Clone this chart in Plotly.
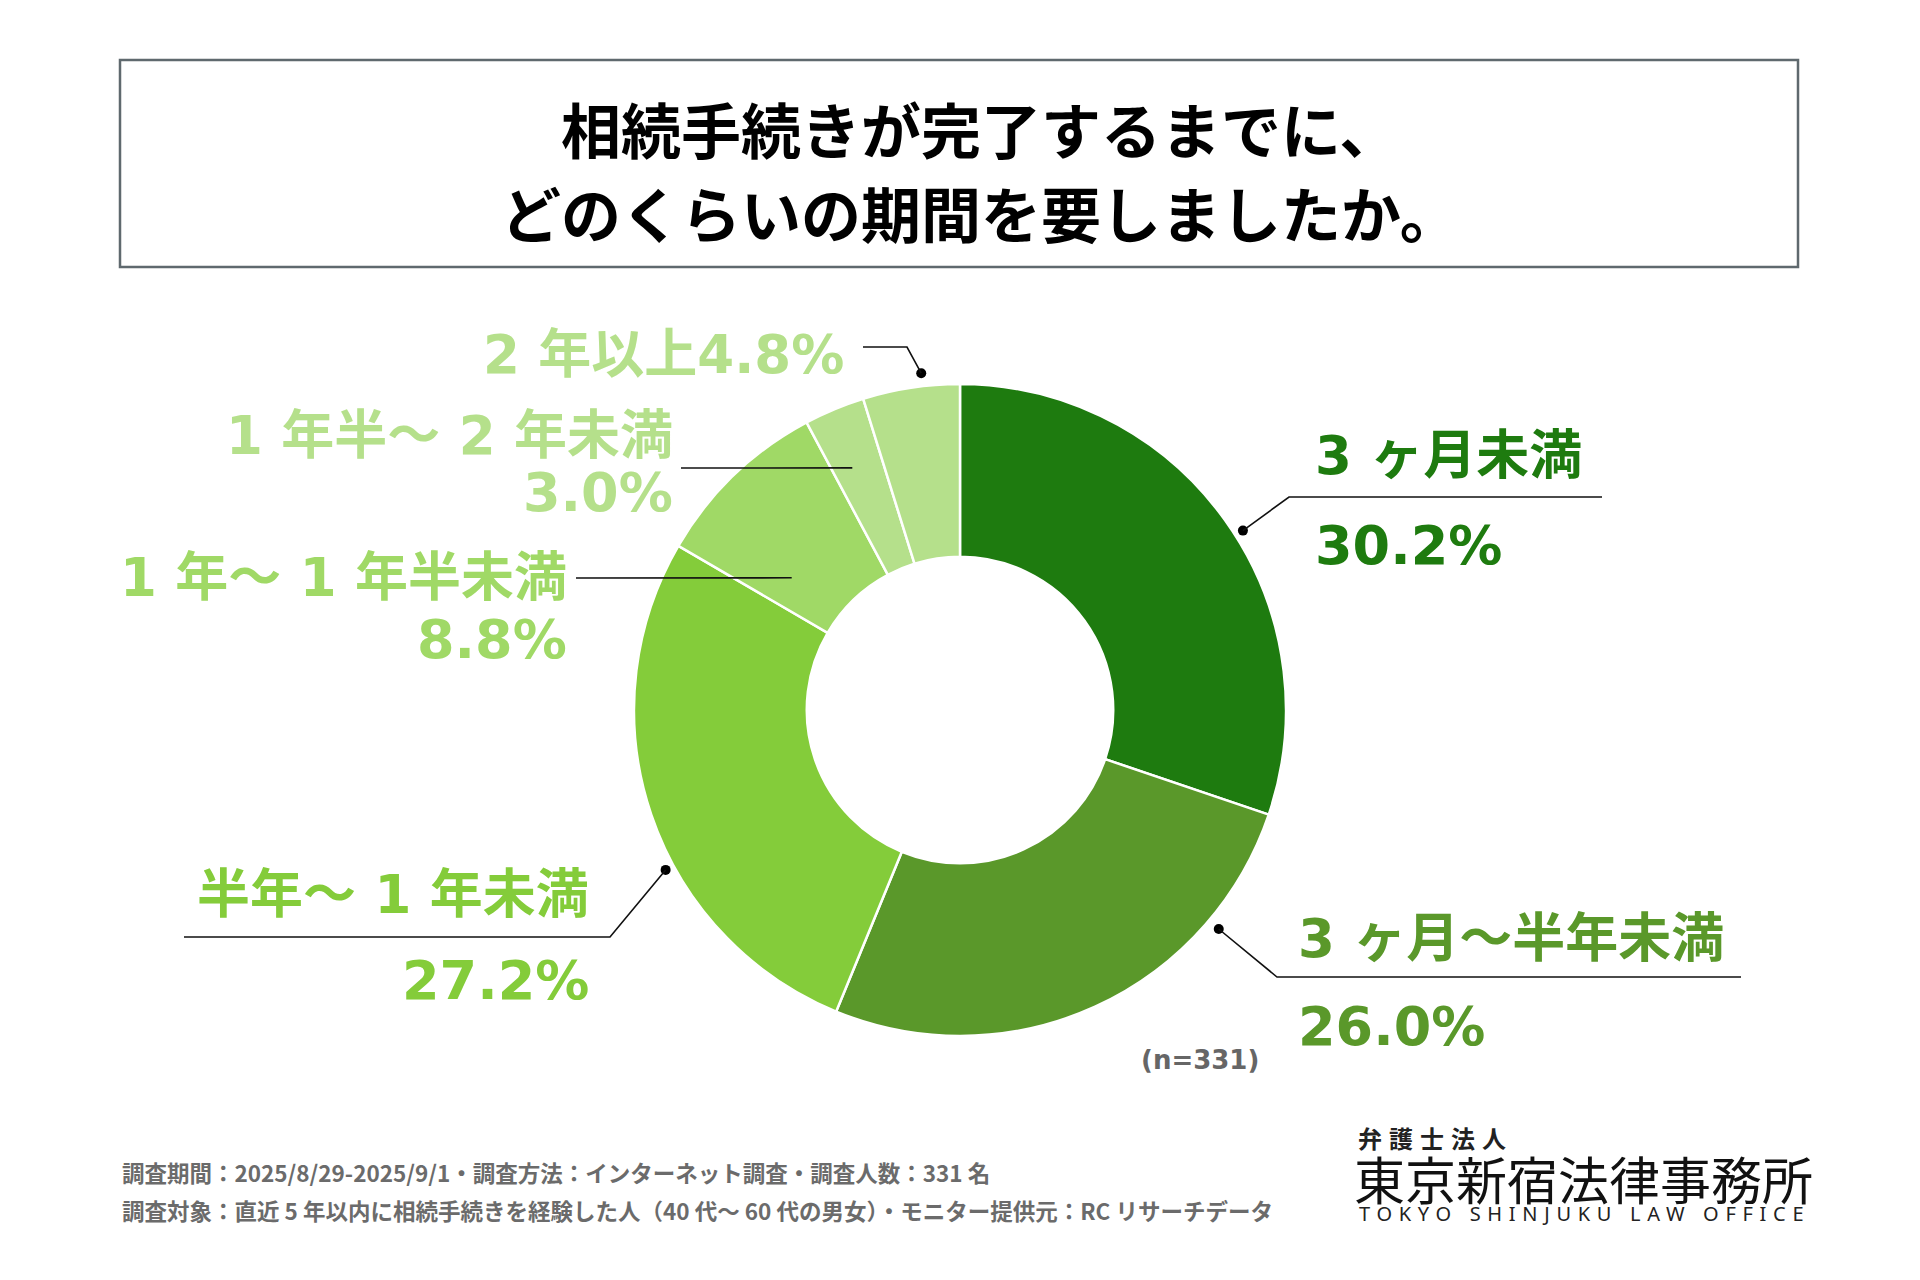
import math
import plotly.graph_objects as go

# ---------------- data ----------------
CATEGORIES = ["3 ヶ月未満", "3 ヶ月〜半年未満", "半年〜 1 年未満",
              "1 年〜 1 年半未満", "1 年半〜 2 年未満", "2 年以上"]
VALUES = [30.2, 26.0, 27.2, 8.8, 3.0, 4.8]
COLORS = ["#1E7B0F", "#5A982A", "#84CC3A", "#A0D966", "#B5E08B", "#B5E08B"]
TITLE_LINES = ["相続手続きが完了するまでに、", "どのくらいの期間を要しましたか。"]
SAMPLE_NOTE = "(n=331)"
FOOTER_LINES = [
    "調査期間：2025/8/29-2025/9/1・調査方法：インターネット調査・調査人数：331 名",
    "調査対象：直近 5 年以内に相続手続きを経験した人（40 代〜 60 代の男女）・モニター提供元：RC リサーチデータ",
]
LOGO_SMALL = "弁護士法人"
LOGO_MAIN = "東京新宿法律事務所"
LOGO_EN = "TOKYO SHINJUKU LAW OFFICE"

# ---------------- layout constants ----------------
W, H = 1920, 1280
OFF = 8  # page body margin offset
CX, CY, R = 960, 710, 326
HOLE = 0.47
LABEL_FONT = "DejaVu Sans, Noto Sans CJK JP, sans-serif"
JP_FONT = "Noto Sans CJK JP, sans-serif"

# leader-dot placement (fraction along slice, radius in px)
DOT_FRAC = [0.53, 0.23, 0.40, 0.25, 0.38, 0.62]
DOT_R = [335, 339, 335, 214, 265, 339]
# leader path points after the dot (elbow, end)
LEADER_PTS = [
    [(1289, 497), (1602, 497)],
    [(1277, 977), (1741, 977)],
    [(610, 937), (184, 937)],
    [(576, 578)],
    [(681, 468)],
    [(907, 347), (863, 347)],
]
# label placement: (x, y_name, y_pct, anchor)
LABEL_POS = [
    (1313, 455, 545, "left"),
    (1296, 938, 1026, "left"),
    (591, 894, 980, "right"),
    (569, 577, 639, "right"),
    (675, 435, 492, "right"),
    (846, 354, None, "right"),
]
LABEL_SIZE = 53

fig = go.Figure()

pcx, pcy = CX - OFF, CY - OFF
fig.add_trace(go.Pie(
    labels=CATEGORIES, values=VALUES, sort=False, direction="clockwise",
    rotation=0, hole=HOLE, textinfo="none", hoverinfo="skip",
    marker=dict(colors=COLORS, line=dict(color="white", width=2.5)),
    domain=dict(x=[(pcx - R) / W, (pcx + R) / W],
                y=[(H - pcy - R) / H, (H - pcy + R) / H]),
    showlegend=False,
))

# dot positions from data
total = sum(VALUES)
cum = 0.0
dots_x, dots_y = [], []
for v, f, r in zip(VALUES, DOT_FRAC, DOT_R):
    ang = (cum + v * f) / total * 2 * math.pi
    dots_x.append(CX + r * math.sin(ang))
    dots_y.append(CY - r * math.cos(ang))
    cum += v

shapes = []
# title box
shapes.append(dict(type="rect", xref="x", yref="y", x0=120, x1=1798, y0=60, y1=267,
                   line=dict(color="#5F696E", width=2.5), fillcolor="rgba(0,0,0,0)"))
# leader lines
for (dx, dy), pts in zip(zip(dots_x, dots_y), LEADER_PTS):
    path = f"M {dx:.1f},{dy:.1f} " + " ".join(f"L {px},{py}" for px, py in pts)
    shapes.append(dict(type="path", xref="x", yref="y", path=path,
                       line=dict(color="#111111", width=1.6)))

fig.add_trace(go.Scatter(x=dots_x, y=dots_y, mode="markers",
                         marker=dict(color="#000000", size=10),
                         hoverinfo="skip", showlegend=False, cliponaxis=False))

ann = []
# title
for i, t in enumerate(TITLE_LINES):
    ann.append(dict(x=980, y=[127, 211][i], text=f"<b>{t}</b>", showarrow=False,
                    xref="x", yref="y", xanchor="center", yanchor="middle",
                    font=dict(family=JP_FONT, size=60, color="#000000")))
# slice labels
for i, (cat, v, col) in enumerate(zip(CATEGORIES, VALUES, COLORS)):
    x, yn, yp, anc = LABEL_POS[i]
    pct = f"{v:.1f}%"
    if yp is None:
        ann.append(dict(x=x, y=yn, text=f"<b>{cat}{pct}</b>", showarrow=False,
                        xref="x", yref="y", xanchor=anc, yanchor="middle",
                        font=dict(family=LABEL_FONT, size=LABEL_SIZE, color=col)))
    else:
        ann.append(dict(x=x, y=yn, text=f"<b>{cat}</b>", showarrow=False,
                        xref="x", yref="y", xanchor=anc, yanchor="middle",
                        font=dict(family=LABEL_FONT, size=LABEL_SIZE, color=col)))
        ann.append(dict(x=x, y=yp, text=f"<b>{pct}</b>", showarrow=False,
                        xref="x", yref="y", xanchor=anc, yanchor="middle",
                        font=dict(family=LABEL_FONT, size=LABEL_SIZE + 1, color=col)))
# n note
ann.append(dict(x=1261, y=1060, text=f"<b>{SAMPLE_NOTE}</b>", showarrow=False,
                xref="x", yref="y", xanchor="right", yanchor="middle",
                font=dict(family=LABEL_FONT, size=26, color="#666666")))
# footer
for i, t in enumerate(FOOTER_LINES):
    ann.append(dict(x=120, y=[1172, 1210][i], text=f"<b>{t}</b>", showarrow=False,
                    xref="x", yref="y", xanchor="left", yanchor="middle",
                    font=dict(family=JP_FONT, size=22.5, color="#6B6B6B")))
# logo
ann.append(dict(x=1356, y=1137,
                text=f"<b><span style='letter-spacing:7px'>{LOGO_SMALL}</span></b>",
                showarrow=False, xref="x", yref="y", xanchor="left", yanchor="middle",
                font=dict(family=JP_FONT, size=24, color="#222222")))
ann.append(dict(x=1352, y=1178, text=LOGO_MAIN, showarrow=False,
                xref="x", yref="y", xanchor="left", yanchor="middle",
                font=dict(family=JP_FONT, size=51, color="#111111")))
ann.append(dict(x=1357, y=1213,
                text=f"<span style='letter-spacing:6.7px'>{LOGO_EN}</span>",
                showarrow=False, xref="x", yref="y", xanchor="left", yanchor="middle",
                font=dict(family="Noto Sans, sans-serif", size=20, color="#222222")))

fig.update_layout(
    width=W, height=H, margin=dict(l=0, r=0, t=0, b=0),
    paper_bgcolor="white", plot_bgcolor="rgba(0,0,0,0)",
    xaxis=dict(range=[OFF, W + OFF], visible=False, fixedrange=True),
    yaxis=dict(range=[H + OFF, OFF], visible=False, fixedrange=True),
    shapes=shapes, annotations=ann,
)

fig.write_html("out.html")
